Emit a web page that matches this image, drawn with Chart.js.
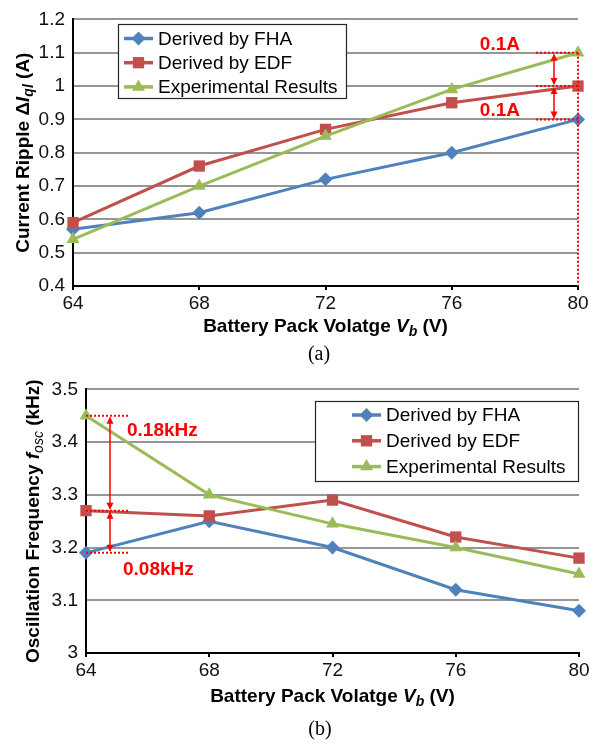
<!DOCTYPE html>
<html>
<head>
<meta charset="utf-8">
<title>Current ripple and oscillation frequency vs battery voltage</title>
<script src="https://cdn.jsdelivr.net/npm/chart.js@4.4.1/dist/chart.umd.min.js"></script>
<style>
  html, body { margin: 0; padding: 0; background: #fff; }
  canvas { display: block; }
</style>
</head>
<body>
<canvas id="ripple" width="597" height="370"></canvas>
<canvas id="freq" width="597" height="375"></canvas>
<script>
const voltages = [64, 68, 72, 76, 80];
const seriesNames = ['Derived by FHA', 'Derived by EDF', 'Experimental Results'];

// (a) current ripple, A
const rippleFHA = [0.57, 0.62, 0.72, 0.80, 0.90];
const rippleEDF = [0.59, 0.76, 0.87, 0.95, 1.00];
const rippleExp = [0.54, 0.70, 0.85, 0.99, 1.10];
const rippleTicks = [0.4, 0.5, 0.6, 0.7, 0.8, 0.9, 1.0, 1.1, 1.2];

// (b) oscillation frequency, kHz
const freqFHA = [3.19, 3.25, 3.20, 3.12, 3.08];
const freqEDF = [3.27, 3.26, 3.29, 3.22, 3.18];
const freqExp = [3.45, 3.30, 3.245, 3.20, 3.15];
const freqTicks = [3.0, 3.1, 3.2, 3.3, 3.4, 3.5];

const SANS = "'Liberation Sans', Arial, sans-serif";
const SERIF = "'Liberation Serif', 'Times New Roman', serif";
const RED = '#ff0000';
const styles = [
  { color: '#4f81bd', pointStyle: 'rectRot', radius: 7 },
  { color: '#c0504d', pointStyle: 'rect', radius: 8 },
  { color: '#9bbb59', pointStyle: 'triangle', radius: 7.5 }
];

function makeDatasets(series) {
  return series.map((vals, i) => ({
    label: seriesNames[i],
    data: vals.map((v, k) => ({ x: voltages[k], y: v })),
    borderColor: styles[i].color,
    backgroundColor: styles[i].color,
    borderWidth: 3,
    pointStyle: styles[i].pointStyle,
    pointRadius: styles[i].radius,
    pointBorderWidth: 0,
    tension: 0,
    clip: false,
    order: 2 - i
  }));
}

function fmt(v) { return String(Number(v.toFixed(2))); }

// text run made of differently styled pieces, centred on (cx, cy)
function richText(ctx, parts, cx, cy, angle) {
  ctx.save();
  ctx.translate(cx, cy);
  ctx.rotate(angle);
  let total = 0;
  parts.forEach(p => { ctx.font = p.font; p.w = ctx.measureText(p.t).width; total += p.w; });
  let x = -total / 2;
  ctx.textAlign = 'left';
  ctx.textBaseline = 'middle';
  ctx.fillStyle = '#000';
  parts.forEach(p => { ctx.font = p.font; ctx.fillText(p.t, x, p.dy || 0); x += p.w; });
  ctx.restore();
}

function dotted(ctx, x1, y1, x2, y2) {
  ctx.save();
  ctx.strokeStyle = RED;
  ctx.lineWidth = 2;
  ctx.setLineDash([2, 2]);
  ctx.beginPath();
  ctx.moveTo(x1, y1);
  ctx.lineTo(x2, y2);
  ctx.stroke();
  ctx.restore();
}

// vertical double-headed arrow
function arrow(ctx, x, y1, y2) {
  const len = 7, half = 3.5;
  ctx.save();
  ctx.strokeStyle = RED;
  ctx.fillStyle = RED;
  ctx.lineWidth = 1.5;
  ctx.beginPath();
  ctx.moveTo(x, y1 + 2);
  ctx.lineTo(x, y2 - 2);
  ctx.stroke();
  [[y1 + 1, 1], [y2 - 1, -1]].forEach(([tip, dir]) => {
    ctx.beginPath();
    ctx.moveTo(x, tip);
    ctx.lineTo(x - half, tip + dir * len);
    ctx.lineTo(x + half, tip + dir * len);
    ctx.closePath();
    ctx.fill();
  });
  ctx.restore();
}

function redLabel(ctx, text, x, y, align) {
  ctx.save();
  ctx.font = 'bold 19px ' + SANS;
  ctx.fillStyle = RED;
  ctx.textAlign = align;
  ctx.textBaseline = 'middle';
  ctx.fillText(text, x, y);
  ctx.restore();
}

// legend with a frame, drawn inside the plot
const boxLegend = {
  id: 'boxLegend',
  afterDraw(chart, args, o) {
    const ctx = chart.ctx;
    ctx.save();
    ctx.fillStyle = '#fff';
    ctx.fillRect(o.x, o.y, o.w, o.h);
    ctx.strokeStyle = '#262626';
    ctx.lineWidth = 1.2;
    ctx.strokeRect(o.x + 0.5, o.y + 0.5, o.w, o.h);
    chart.data.datasets.forEach((ds, i) => {
      const y = o.rowTop + i * o.rowGap;
      ctx.strokeStyle = ds.borderColor;
      ctx.lineWidth = 3.5;
      ctx.beginPath();
      ctx.moveTo(o.lineX1, y);
      ctx.lineTo(o.lineX2, y);
      ctx.stroke();
      ctx.fillStyle = ds.backgroundColor;
      Chart.helpers.drawPoint(ctx, { pointStyle: ds.pointStyle, radius: ds.pointRadius, rotation: 0, borderWidth: 0 },
        (o.lineX1 + o.lineX2) / 2, y);
      ctx.fillStyle = '#000';
      ctx.font = '19px ' + SANS;
      ctx.textAlign = 'left';
      ctx.textBaseline = 'middle';
      ctx.fillText(ds.label, o.textX, y + 1);
    });
    ctx.restore();
  }
};

// axis titles and caption
const titles = {
  id: 'titles',
  afterDraw(chart, args, o) {
    const ctx = chart.ctx;
    const a = chart.chartArea;
    richText(ctx, o.x, (a.left + a.right) / 2, o.xTitleY, 0);
    richText(ctx, o.y, o.yTitleX, (a.top + a.bottom) / 2, -Math.PI / 2);
    ctx.save();
    ctx.font = '20px ' + SERIF;
    ctx.fillStyle = '#000';
    ctx.textAlign = 'center';
    ctx.textBaseline = 'middle';
    ctx.fillText(o.caption, o.captionX, o.captionY);
    ctx.restore();
  }
};

function scalesFor(yMin, yMax, yTicks, leftWidth, bottomHeight) {
  return {
    x: {
      type: 'linear',
      min: voltages[0],
      max: voltages[voltages.length - 1],
      afterBuildTicks: s => { s.ticks = voltages.map(v => ({ value: v })); },
      afterFit: s => { s.height = bottomHeight; },
      grid: { drawOnChartArea: false, drawTicks: true, tickLength: 4, color: '#000', lineWidth: 2 },
      border: { display: true, color: '#000', width: 2 },
      ticks: { color: '#111', padding: 2, maxRotation: 0, font: { family: SANS, size: 19 } }
    },
    y: {
      type: 'linear',
      min: yMin,
      max: yMax,
      afterBuildTicks: s => { s.ticks = yTicks.map(v => ({ value: v })); },
      afterFit: s => { s.width = leftWidth; },
      grid: { drawTicks: false, color: '#969696', lineWidth: 2 },
      border: { display: true, color: '#000', width: 2 },
      ticks: { color: '#111', padding: 8, callback: v => fmt(v), font: { family: SANS, size: 19 } }
    }
  };
}

const boldT = 'bold 19px ' + SANS;
const boldI = 'italic bold 19px ' + SANS;
const subI = 'italic bold 14px ' + SANS;
const xTitle = [
  { t: 'Battery Pack Volatge ', font: boldT },
  { t: 'V', font: boldI },
  { t: 'b', font: subI, dy: 5 },
  { t: ' (V)', font: boldT }
];

// gap arrows at 80 V between the three curves
const rippleMarks = {
  id: 'rippleMarks',
  afterDatasetsDraw(chart) {
    const ctx = chart.ctx, sx = chart.scales.x, sy = chart.scales.y;
    const k = voltages.length - 1;
    const xs = sx.getPixelForValue(voltages[k]);
    const y1 = sy.getPixelForValue(rippleExp[k]);
    const y2 = sy.getPixelForValue(rippleEDF[k]);
    const y3 = sy.getPixelForValue(rippleFHA[k]);
    [y1, y2, y3].forEach(y => dotted(ctx, xs - 42, y, xs, y));
    dotted(ctx, xs, y1, xs, chart.chartArea.bottom);
    arrow(ctx, xs - 24, y1, y2);
    arrow(ctx, xs - 24, y2, y3);
    redLabel(ctx, fmt(rippleExp[k] - rippleEDF[k]) + 'A', xs - 58, y1 - 8, 'right');
    redLabel(ctx, fmt(rippleEDF[k] - rippleFHA[k]) + 'A', xs - 58, y3 - 9, 'right');
  }
};

// gap arrows at 64 V
const freqMarks = {
  id: 'freqMarks',
  afterDatasetsDraw(chart) {
    const ctx = chart.ctx, sx = chart.scales.x, sy = chart.scales.y;
    const xs = sx.getPixelForValue(voltages[0]);
    const y1 = sy.getPixelForValue(freqExp[0]);
    const y2 = sy.getPixelForValue(freqEDF[0]);
    const y3 = sy.getPixelForValue(freqFHA[0]);
    [y1, y2, y3].forEach(y => dotted(ctx, xs, y, xs + 44, y));
    arrow(ctx, xs + 24, y1, y2);
    arrow(ctx, xs + 24, y2, y3);
    redLabel(ctx, fmt(freqExp[0] - freqEDF[0]) + 'kHz', xs + 41, y1 + 15, 'left');
    redLabel(ctx, fmt(freqEDF[0] - freqFHA[0]) + 'kHz', xs + 37, y3 + 17, 'left');
  }
};

new Chart(document.getElementById('ripple'), {
  type: 'line',
  data: { datasets: makeDatasets([rippleFHA, rippleEDF, rippleExp]) },
  options: {
    responsive: false,
    animation: false,
    layout: { padding: { left: 0, right: 19, top: 15, bottom: 0 } },
    scales: scalesFor(0.4, 1.2, rippleTicks, 73, 84),
    plugins: {
      legend: { display: false },
      tooltip: { enabled: false },
      boxLegend: { x: 118, y: 24, w: 228, h: 74, rowTop: 38.5, rowGap: 24.2, lineX1: 124, lineX2: 153, textX: 158 },
      titles: {
        x: xTitle,
        xTitleY: 327,
        y: [
          { t: 'Current Ripple \u0394', font: boldT },
          { t: 'I', font: boldI },
          { t: 'ql', font: subI, dy: 5 },
          { t: ' (A)', font: boldT }
        ],
        yTitleX: 24,
        caption: '(a)', captionX: 319, captionY: 355
      }
    }
  },
  plugins: [rippleMarks, boxLegend, titles]
});

new Chart(document.getElementById('freq'), {
  type: 'line',
  data: { datasets: makeDatasets([freqFHA, freqEDF, freqExp]) },
  options: {
    responsive: false,
    animation: false,
    layout: { padding: { left: 0, right: 18, top: 19, bottom: 0 } },
    scales: scalesFor(3.0, 3.5, freqTicks, 86, 92),
    plugins: {
      legend: { display: false },
      tooltip: { enabled: false },
      boxLegend: { x: 315, y: 31, w: 263, h: 80, rowTop: 45, rowGap: 25.8, lineX1: 352, lineX2: 381, textX: 386 },
      titles: {
        x: xTitle,
        xTitleY: 327,
        y: [
          { t: 'Oscillation Frequency ', font: boldT },
          { t: 'f', font: boldI },
          { t: 'osc', font: 'italic 14px ' + SANS, dy: 5 },
          { t: ' (kHz)', font: boldT }
        ],
        yTitleX: 34,
        caption: '(b)', captionX: 320, captionY: 360
      }
    }
  },
  plugins: [freqMarks, boxLegend, titles]
});
</script>
</body>
</html>
